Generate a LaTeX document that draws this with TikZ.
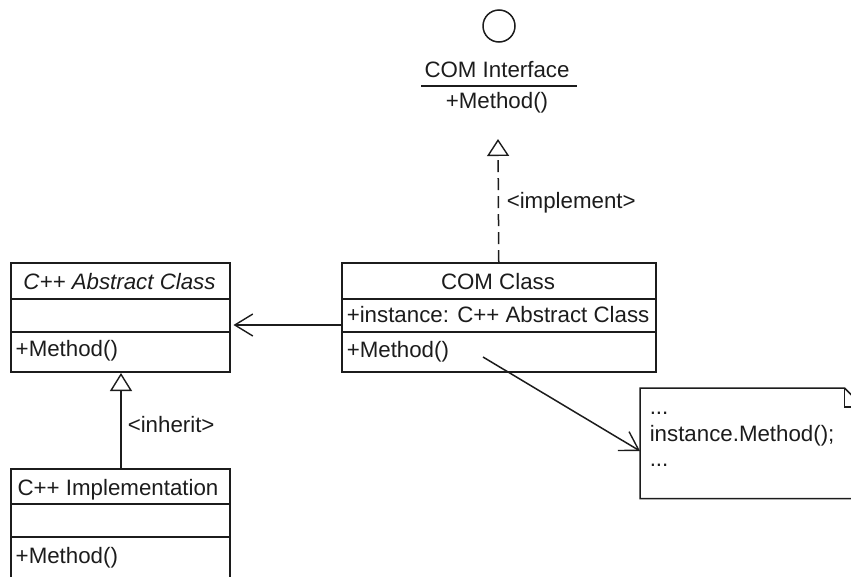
\documentclass[tikz,border=0pt]{standalone}
\usepackage{fontspec}
\setmainfont{Liberation Sans}
\usetikzlibrary{arrows.meta,calc}
\definecolor{ink}{HTML}{1C1C1C}
\begin{document}
\begin{tikzpicture}[x=1pt,y=-1pt,
  line width=1.5pt, draw=ink,
  every node/.style={font=\fontsize{22.3}{26}\selectfont, text=ink, inner sep=0pt},
  box/.style n args={2}{draw=ink, anchor=north west, minimum width=#1pt, minimum height=#2pt},
  realize/.style={dash pattern=on 12pt off 6pt, -{Triangle[open, length=17pt, width=22pt, line width=1.4pt, sep=0pt]}},
  generalize/.style={-{Triangle[open, length=18pt, width=22pt, line width=1.4pt]}},
  assoc/.style={-{Straight Barb[length=18pt, width=22pt, line width=1.4pt]}},
  member/.style={anchor=base west},
  title/.style={anchor=base}]
\useasboundingbox (0,0) rectangle (851,576);
\clip (0,0) rectangle (851,576);

% interface lollipop
\node[draw=ink, circle, minimum size=32pt] (iface) at (499,26) {};
\node[title] (ifaceName) at (497,77) {COM Interface};
\coordinate (ifaceL) at (421,86);
\coordinate (ifaceR) at (577,86);
\draw (ifaceL) -- (ifaceR);
\node[title] (ifaceOp) at (497,108) {+Method()};

% COM class
\node[box={314}{109}] (com) at (341,262) {};
\draw ($(com.north west)+(0,37)$) -- ($(com.north east)+(0,37)$);
\draw ($(com.north west)+(0,70)$) -- ($(com.north east)+(0,70)$);
\node[title] (comName) at (498,289) {COM Class};
\node[member] (comAttr) at (346,322) {+instance: C++ Abstract Class};
\node[member] (comOp) at (346,357) {+Method()};

% abstract C++ class
\node[box={219}{109}] (abs) at (10,262) {};
\draw ($(abs.north west)+(0,37)$) -- ($(abs.north east)+(0,37)$);
\draw ($(abs.north west)+(0,70)$) -- ($(abs.north east)+(0,70)$);
\node[title] (absName) at (119.5,289) {\itshape C++ Abstract Class};
\node[member] (absOp) at (15,356) {+Method()};

% C++ implementation
\node[box={219}{112}] (impl) at (10,468) {};
\draw ($(impl.north west)+(0,36)$) -- ($(impl.north east)+(0,36)$);
\draw ($(impl.north west)+(0,69)$) -- ($(impl.north east)+(0,69)$);
\node[title] (implName) at (118,495) {C++ Implementation};
\node[member] (implOp) at (15,563) {+Method()};

% note with folded corner
\node[anchor=north west, minimum width=222pt, minimum height=109pt] (note) at (640,388) {};
\draw (note.north west) -- ([xshift=-19pt]note.north east) -- ([yshift=-19pt]note.north east)
      -- (note.south east) -- (note.south west) -- cycle;
\draw ([xshift=-19pt]note.north east) -- ([xshift=-19pt,yshift=-19pt]note.north east)
      -- ([yshift=-19pt]note.north east);
\node[member] (noteA) at (649,414) {...};
\node[member] (noteB) at (649,441) {instance.Method();};
\node[member] (noteC) at (649,466) {...};

% connectors
\coordinate (realTip) at (498,139);
\draw[realize] (com.north) -- (realTip);
\node[member] (realLabel) at (506,208) {<implement>};

\coordinate (inhTip) at (121,373);
\draw[generalize] (impl.north -| inhTip) -- (inhTip);
\node[member] (inhLabel) at (127,432) {<inherit>};

\coordinate (assocY) at (0,325);
\draw[assoc] (com.west |- assocY) -- ([xshift=3pt]abs.east |- assocY);

\coordinate (callStart) at (483,357);
\coordinate (callTip) at (0,451);
\draw[assoc] (callStart) -- (note.west |- callTip);
\end{tikzpicture}
\end{document}
